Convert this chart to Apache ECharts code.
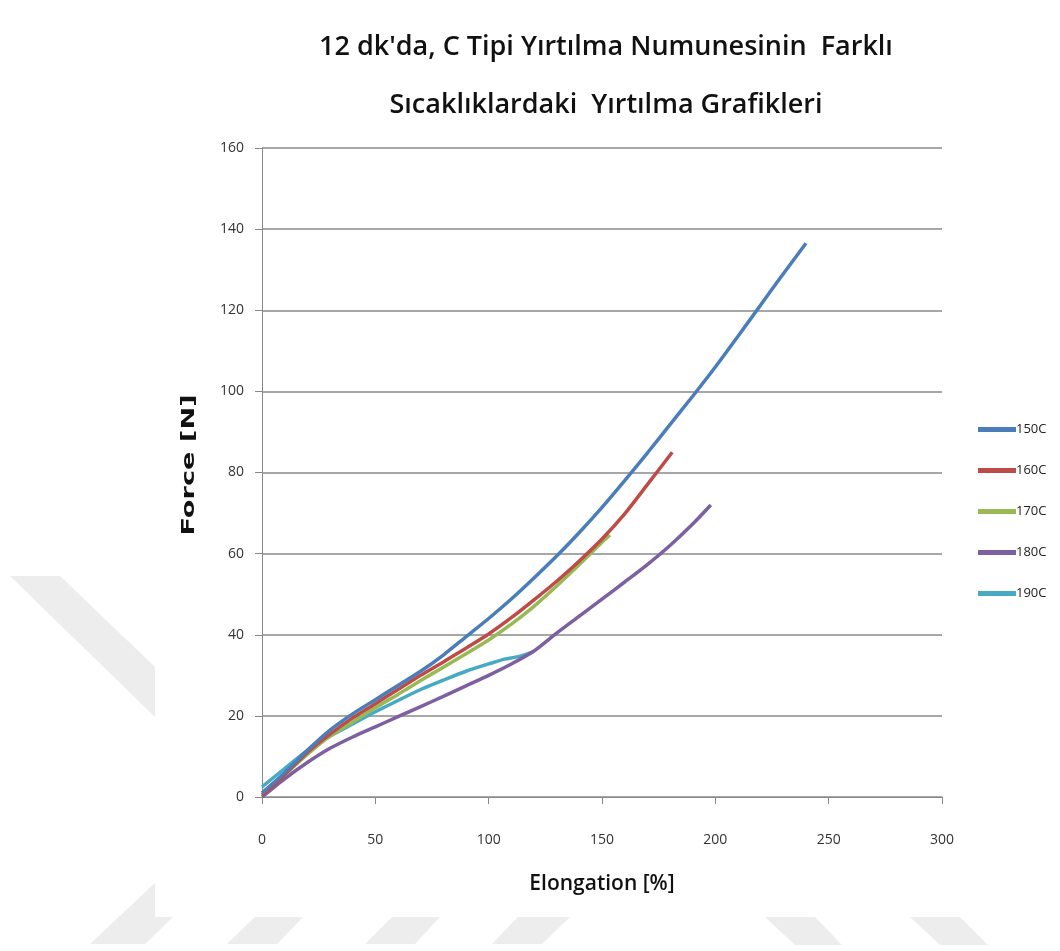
<!DOCTYPE html>
<html><head><meta charset="utf-8">
<script src="https://cdn.jsdelivr.net/npm/echarts@6/dist/echarts.min.js"></script>
<style>html,body{margin:0;padding:0;background:#fff}#c{width:1060px;height:951px}</style>
</head><body><div id="c"></div>
<script>
const seriesNames = ['150C','160C','170C','180C','190C'];
const colors = ['#4A7EBB','#BE4B48','#98B954','#7D60A0','#46AAC5'];
const s150 = [[0,1],[10,6],[20,11.5],[30,16.5],[40,20.5],[50,24],[60,27.5],[70,31],[80,35],[90,39.5],[100,44],[110,48.8],[120,54],[130,59.4],[140,65.2],[150,71.4],[160,78],[170,84.8],[180,91.8],[190,98.8],[200,106],[210,113.6],[220,121.3],[230,129],[240,136.5]];
const s160 = [[0,0.5],[10,5.5],[20,11],[30,15.5],[40,19.5],[50,23],[60,26.5],[70,30],[80,33.3],[90,36.7],[100,40.2],[110,44.2],[120,48.6],[130,53.2],[140,58.2],[150,63.6],[160,69.8],[170,77],[181,85]];
const s170 = [[0,1],[10,5.5],[20,10.5],[30,15],[40,18.5],[50,22],[60,25.3],[70,28.7],[80,32],[90,35.3],[100,38.7],[110,42.6],[120,47],[130,52],[140,57.3],[150,62.8],[153.5,64.6]];
const s180 = [[0,0],[10,4.5],[20,8.5],[30,12],[40,14.8],[50,17.3],[60,19.8],[70,22.3],[80,24.8],[90,27.4],[100,30],[110,32.8],[120,36],[130,40.4],[140,44.6],[150,48.8],[160,53],[170,57.3],[180,62],[190,67.3],[198,72]];
const s190 = [[0,2.5],[10,7],[20,11.5],[30,15],[40,18],[50,21],[60,23.8],[70,26.5],[80,28.8],[90,31],[100,32.8],[107,34],[113,34.6],[119.6,35.8]];
const allData = [s150,s160,s170,s180,s190];
const titleText = "12 dk'da, C Tipi Yırtılma Numunesinin  Farklı\nSıcaklıklardaki  Yırtılma Grafikleri";
const xName = 'Elongation [%]';
const yName = 'Force [N]';

// faint background watermark shapes (decoration outside the chart panel)
const wmShapes = [
  [[10,576],[60,576],[155,667],[155,717]],
  [[90,944],[145,944],[173,917],[155,917],[155,883]],
  [[227,944],[277,944],[303,917],[255,917]],
  [[365,944],[415,944],[440,917],[392,917]],
  [[492,944],[542,944],[570,917],[518,917]],
  [[765,917],[815,917],[842,945],[795,945]],
  [[910,917],[960,917],[988,945],[940,945]]
];

const chart = echarts.init(document.getElementById('c'));
chart.setOption({
  animation:false,
  backgroundColor:'#fff',
  title:{
    text:titleText,
    left:601, top:13, textAlign:'center',
    textStyle:{fontFamily:'Open Sans', fontSize:27, fontWeight:600, color:'#111', lineHeight:58}
  },
  legend:{
    orient:'vertical', left:973, top:416, itemGap:24, itemWidth:38, itemHeight:5,
    icon:'rect',
    data:seriesNames,
    textStyle:{fontFamily:'Open Sans', fontSize:13, color:'#222', lineHeight:17, padding:[0,0,0,-5]}
  },
  graphic: wmShapes.map(p=>({
    type:'polygon', shape:{points:p}, style:{fill:'#ededed'}, silent:true, z:-1
  })).concat([{
    type:'text', x:190, y:465, rotation:Math.PI/2, scaleX:1.6, scaleY:1,
    style:{text:yName, font:'bold 17px "DejaVu Sans"', fill:'#111', align:'center', verticalAlign:'middle'}
  }]),
  grid:{left:262, right:118, top:148, bottom:154},
  xAxis:{
    type:'value', min:0, max:300, interval:50,
    name:xName, nameLocation:'middle', nameGap:77,
    nameTextStyle:{fontFamily:'Open Sans', fontSize:21, fontWeight:600, color:'#111'},
    axisLine:{show:true, lineStyle:{color:'#888', width:1}},
    axisTick:{show:true, length:7, lineStyle:{color:'#888'}},
    axisLabel:{fontFamily:'Open Sans', fontSize:14, color:'#333', margin:36},
    splitLine:{show:false}
  },
  yAxis:{
    type:'value', min:0, max:160, interval:20,
    axisLine:{show:true, lineStyle:{color:'#888', width:1}},
    axisTick:{show:true, length:7, lineStyle:{color:'#888'}},
    axisLabel:{fontFamily:'Open Sans', fontSize:14, color:'#333', margin:18},
    splitLine:{show:true, lineStyle:{color:'#8a8a8a', width:1.5}}
  },
  series: seriesNames.map((n,i)=>({
    name:n, type:'line', data:allData[i], smooth:0.25, showSymbol:false,
    lineStyle:{color:colors[i], width:3.5}, itemStyle:{color:colors[i]},
    z: 10-i
  }))
});
</script></body></html>
